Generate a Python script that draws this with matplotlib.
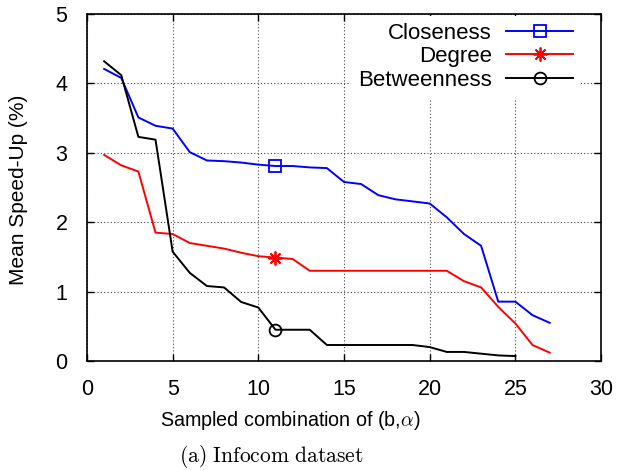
import matplotlib
matplotlib.use("Agg")
import matplotlib.pyplot as plt
import numpy as np

plt.rcParams['font.family'] = ['Liberation Sans', 'DejaVu Sans']
plt.rcParams['mathtext.fontset'] = 'cm'

x_vals = list(range(1, 28))
closeness = [4.21, 4.08, 3.51, 3.39, 3.35, 3.01, 2.89, 2.88, 2.86, 2.83, 2.81, 2.81,
             2.79, 2.78, 2.58, 2.55, 2.39, 2.33, 2.30, 2.27, 2.07, 1.83, 1.66, 0.855,
             0.855, 0.66, 0.55]
degree = [2.97, 2.82, 2.73, 1.85, 1.83, 1.70, 1.66, 1.62, 1.56, 1.51, 1.49, 1.47,
          1.30, 1.30, 1.30, 1.30, 1.30, 1.30, 1.30, 1.30, 1.30, 1.15, 1.06, 0.78,
          0.54, 0.23, 0.12]
x_betw = list(range(1, 26))
betweenness = [4.32, 4.12, 3.23, 3.19, 1.575, 1.27, 1.08, 1.06, 0.85, 0.77, 0.45, 0.45,
               0.45, 0.23, 0.23, 0.23, 0.23, 0.23, 0.23, 0.20, 0.13, 0.13, 0.105, 0.08,
               0.07]

xticks = [0, 5, 10, 15, 20, 25, 30]
yticks = [0, 1, 2, 3, 4, 5]

W, H = 619, 470
fig = plt.figure(figsize=(W / 100, H / 100), dpi=100)
ax = fig.add_axes([0.1405, 0.232, 0.8305, 0.738])

lw = 1.4
ax.plot(x_vals, closeness, color='#0000ff', lw=lw, marker='s', markersize=8.5,
        markerfacecolor='none', markeredgecolor='#0000ff', markeredgewidth=1.3,
        markevery=[10], label='Closeness')
ax.plot(x_vals, degree, color='#ff0000', lw=lw, marker=(8, 2, 0), markersize=10,
        markeredgecolor='#ff0000', markeredgewidth=1.3,
        markevery=[10], label='Degree')
ax.plot(x_betw, betweenness, color='black', lw=lw, marker='o', markersize=8.5,
        markerfacecolor='none', markeredgecolor='black', markeredgewidth=1.3,
        markevery=[10], label='Betweenness')

ax.set_xlim(0, 30)
ax.set_ylim(0, 5)
ax.set_xticks(xticks)
ax.set_yticks(yticks)
ax.tick_params(direction='in', top=True, right=True, length=5, width=1,
               labelsize=15.5)
ax.tick_params(axis='y', pad=14)
ax.tick_params(axis='x', pad=13)
ax.grid(True, linestyle=(0, (1, 2)), color='#444444', linewidth=0.8)
ax.set_axisbelow(True)
for s in ax.spines.values():
    s.set_linewidth(1.2)
    s.set_zorder(10)

fig.text(290 / W, 1 - 420 / H, r'Sampled combination of (b,$\alpha$)', fontsize=14.2,
         ha='center', va='center')
fig.text(19 / W, 1 - 190 / H, 'Mean Speed-Up (%)', fontsize=15, rotation=90,
         ha='center', va='center')

leg = ax.legend(loc='upper right', bbox_to_anchor=(0.98, 1.027), markerfirst=False,
                fontsize=16, frameon=True, fancybox=False, framealpha=1,
                edgecolor='none', facecolor='white', handlelength=3.0,
                handletextpad=0.65, labelspacing=0.12, borderpad=0.3)

fig.text(271 / W, 1 - 457 / H, r'$\mathrm{(a)\ Infocom\ dataset}$', fontsize=15.5,
         ha='center', va='center')

fig.savefig('out.png', dpi=100)
